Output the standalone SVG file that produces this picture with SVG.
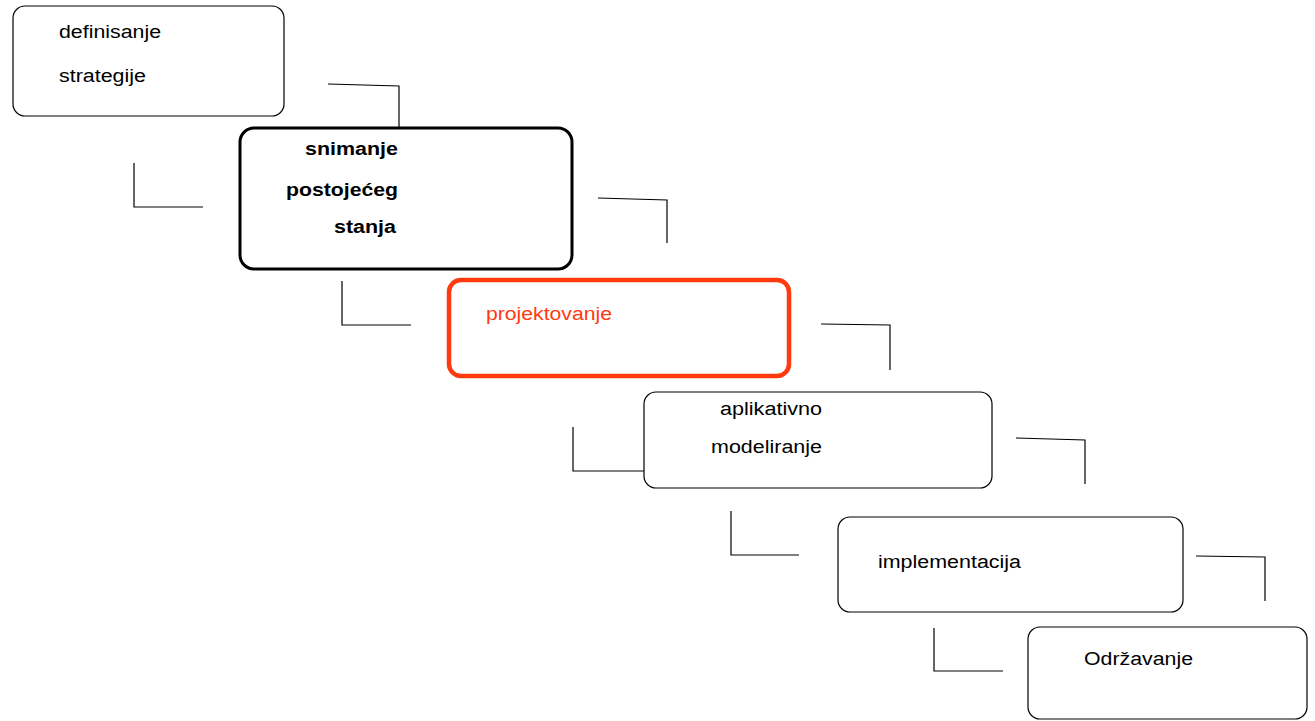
<svg xmlns="http://www.w3.org/2000/svg" width="1315" height="721" viewBox="0 0 1315 721">
<style>
.box{fill:#fff;stroke:#000;stroke-width:1.2}
.bold{fill:#fff;stroke:#000;stroke-width:3}
.red{fill:#fff;stroke:#ff3a0f;stroke-width:4.5}
.t{font-family:"Liberation Sans",Arial,sans-serif;font-size:18px;fill:#000}
.tb{font-family:"Liberation Sans",Arial,sans-serif;font-size:18px;font-weight:bold;fill:#000}
.tr{font-family:"Liberation Sans",Arial,sans-serif;font-size:18px;fill:#ff3a0f}
.c{fill:none;stroke:#000;stroke-width:1.2}
</style>
<rect width="1315" height="721" fill="#fff"/>
<g id="connectors">
<polyline class="c" points="328,84 399,86 399,128"/>
<polyline class="c" points="134,163 134,207 203,207"/>
<polyline class="c" points="598,198 667,200 667,243"/>
<polyline class="c" points="342,281 342,325 411,325"/>
<polyline class="c" points="821,324 890,325 890,370"/>
<polyline class="c" points="573,427 573,471 644,471"/>
<polyline class="c" points="1016,438 1085,440 1085,484"/>
<polyline class="c" points="731,511 731,555 799,555"/>
<polyline class="c" points="1196,556 1265,557 1265,601"/>
<polyline class="c" points="934,628 934,671 1003,671"/>
</g>
<g id="node1">
<rect class="box" x="13" y="6" width="271" height="110" rx="12"/>
<text class="t" x="59" y="38" textLength="102" lengthAdjust="spacingAndGlyphs">definisanje</text>
<text class="t" x="59" y="82" textLength="87" lengthAdjust="spacingAndGlyphs">strategije</text>
</g>
<g id="node2">
<rect class="bold" x="240" y="128" width="332" height="141" rx="14"/>
<text class="tb" x="305" y="155" textLength="93" lengthAdjust="spacingAndGlyphs">snimanje</text>
<text class="tb" x="286" y="196" textLength="112" lengthAdjust="spacingAndGlyphs">postojećeg</text>
<text class="tb" x="334" y="233" textLength="62" lengthAdjust="spacingAndGlyphs">stanja</text>
</g>
<g id="node3">
<rect class="red" x="449" y="280" width="340" height="96" rx="12"/>
<text class="tr" x="486" y="320" textLength="126" lengthAdjust="spacingAndGlyphs">projektovanje</text>
</g>
<g id="node4">
<rect class="box" x="644" y="392" width="348" height="96" rx="12"/>
<text class="t" x="720" y="415" textLength="102" lengthAdjust="spacingAndGlyphs">aplikativno</text>
<text class="t" x="711" y="453" textLength="111" lengthAdjust="spacingAndGlyphs">modeliranje</text>
</g>
<g id="node5">
<rect class="box" x="838" y="517" width="345" height="95" rx="12"/>
<text class="t" x="878" y="568" textLength="143" lengthAdjust="spacingAndGlyphs">implementacija</text>
</g>
<g id="node6">
<rect class="box" x="1028" y="627" width="279" height="92" rx="12"/>
<text class="t" x="1084" y="665" textLength="109" lengthAdjust="spacingAndGlyphs">Održavanje</text>
</g>
</svg>
